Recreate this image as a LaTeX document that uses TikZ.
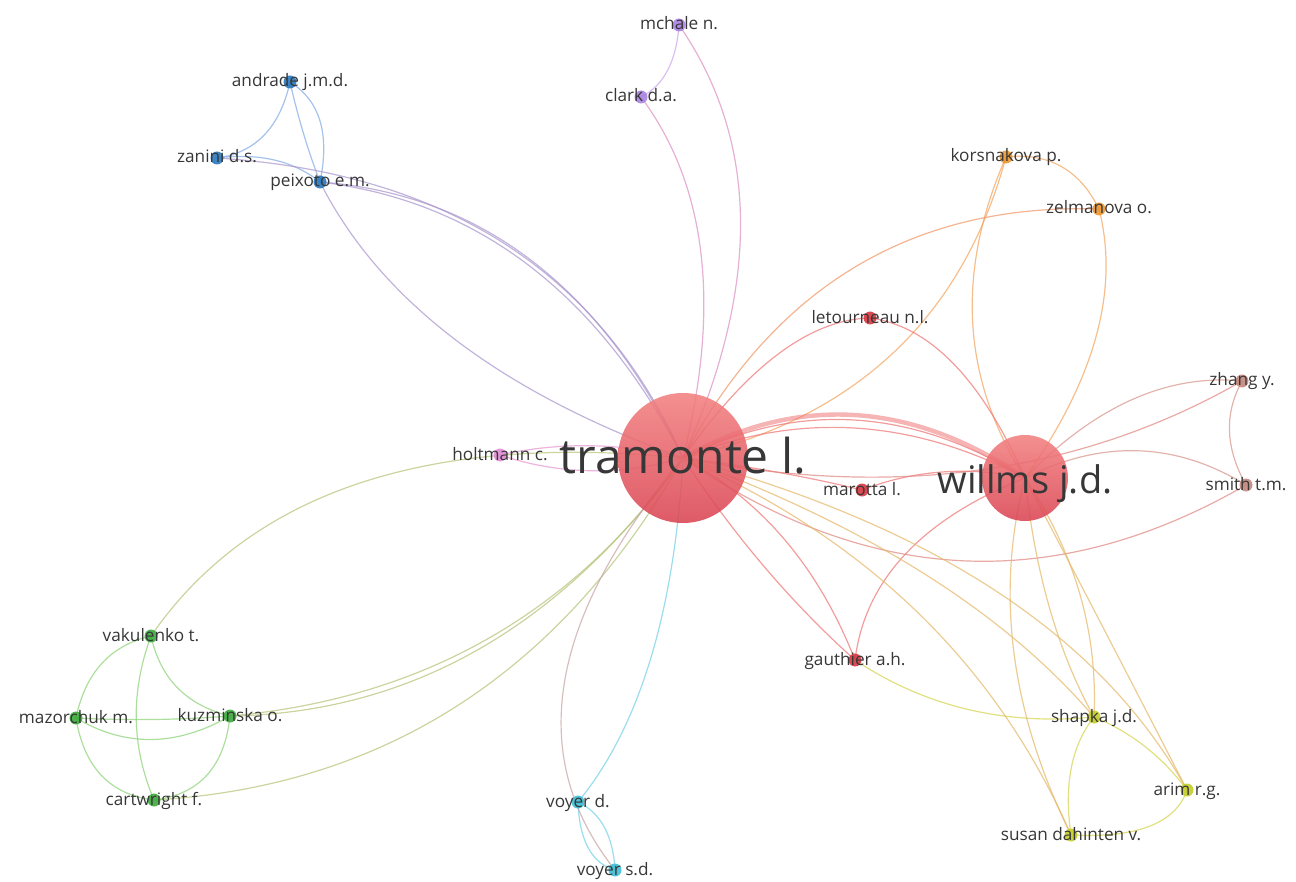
\documentclass[tikz,border=0pt]{standalone}
\usepackage{fontspec}
\setmainfont{Open Sans}
\usetikzlibrary{calc}
\definecolor{txt}{RGB}{55,55,55}
\definecolor{cRedE}{RGB}{238,118,118}
\definecolor{cOrE}{RGB}{242,165,95}
\definecolor{cBrE}{RGB}{215,150,140}
\definecolor{cYeE}{RGB}{212,212,80}
\definecolor{cGrE}{RGB}{140,210,120}
\definecolor{cBlE}{RGB}{130,170,230}
\definecolor{cPuE}{RGB}{205,165,235}
\definecolor{cCyE}{RGB}{115,208,230}
\definecolor{cPiE}{RGB}{230,150,210}
\definecolor{mBl}{RGB}{170,150,205}
\definecolor{mGr}{RGB}{180,195,120}
\definecolor{mPu}{RGB}{220,145,195}
\definecolor{mYe}{RGB}{228,185,105}
\definecolor{mCy}{RGB}{200,165,165}
\definecolor{nRed}{RGB}{215,55,65}
\definecolor{nOr}{RGB}{235,150,50}
\definecolor{nBr}{RGB}{195,135,125}
\definecolor{nYe}{RGB}{195,205,40}
\definecolor{nGr}{RGB}{60,170,60}
\definecolor{nBl}{RGB}{40,120,190}
\definecolor{nPu}{RGB}{170,130,225}
\definecolor{nCy}{RGB}{60,190,215}
\definecolor{nPi}{RGB}{225,140,215}
\definecolor{bigTop}{RGB}{242,128,128}
\definecolor{bigBot}{RGB}{218,68,82}
\newcommand\qedge[4][]{\draw[#1] (#2) .. controls ($(#2)!0.6667!(#4)$) and ($(#3)!0.6667!(#4)$) .. (#3);}
\tikzset{
  e/.style={line width=0.6pt, draw opacity=0.72},
  ered/.style={e, draw=cRedE},
  eor/.style={e, draw=cOrE},
  ebr/.style={e, draw=cBrE},
  eye/.style={e, draw=cYeE},
  egr/.style={e, draw=cGrE},
  ebl/.style={e, draw=cBlE},
  epu/.style={e, draw=cPuE},
  ecy/.style={e, draw=cCyE},
  epi/.style={e, draw=cPiE},
  smallnode/.style={circle, inner sep=0pt, minimum size=6.5pt, fill opacity=0.9},
  bignode/.style={circle, inner sep=0pt, top color=bigTop, bottom color=bigBot, fill opacity=0.88},
  lab/.style={anchor=base, text=txt, inner sep=0pt, font=\fontsize{8.6}{8.6}\selectfont},
}
\begin{document}
\begin{tikzpicture}[x=0.5pt, y=-0.5pt]
\useasboundingbox (0,0) rectangle (1296,882);
% positions
\coordinate (tra) at (683,458);
\coordinate (wil) at (1025,478);
\coordinate (hol) at (500,455);
\coordinate (mar) at (862,490);
\coordinate (let) at (870,318);
\coordinate (kor) at (1006,157);
\coordinate (zel) at (1099,209);
\coordinate (zha) at (1242,381);
\coordinate (smi) at (1246,485);
\coordinate (gau) at (855,660);
\coordinate (sha) at (1094,717);
\coordinate (ari) at (1187,790);
\coordinate (sus) at (1071,835);
\coordinate (vod) at (578,802);
\coordinate (vos) at (615,870);
\coordinate (vak) at (151,636);
\coordinate (maz) at (76,718);
\coordinate (kuz) at (230,716);
\coordinate (car) at (154,800);
\coordinate (adr) at (290,82);
\coordinate (zan) at (217,158);
\coordinate (pei) at (320,182);
\coordinate (mch) at (679,25);
\coordinate (cla) at (641,97);
% ---- edges ----
% blue cluster
\qedge[ebl]{adr}{zan}{275,150}
\qedge[ebl]{adr}{pei}{302,135}
\qedge[ebl]{adr}{pei}{335,110}
\qedge[ebl]{zan}{pei}{280,150}
\qedge[e, draw=mBl]{zan}{tra}{560,180}
\qedge[e, draw=mBl]{pei}{tra}{560,200}
\qedge[e, draw=mBl]{pei}{tra}{555,210}
\qedge[e, draw=mBl]{pei}{tra}{410,360}
% purple
\qedge[epu]{mch}{cla}{675,80}
\qedge[e, draw=mPu]{cla}{tra}{740,230}
\qedge[e, draw=mPu]{mch}{tra}{800,200}
% orange
\qedge[eor]{kor}{zel}{1070,150}
\qedge[eor]{kor}{tra}{940,400}
\qedge[eor]{kor}{wil}{930,330}
\qedge[eor]{zel}{wil}{1130,330}
\qedge[e, draw=cOrE!70!cRedE]{zel}{tra}{820,200}
% red
\qedge[ered, line width=2.2pt, draw opacity=0.55]{tra}{wil}{854,362}
\qedge[ered]{tra}{wil}{854,372}
\qedge[ered]{tra}{wil}{854,388}
\qedge[ered]{tra}{mar}{780,470}
\qedge[ered]{wil}{mar}{940,460}
\qedge[ered]{tra}{let}{780,320}
\qedge[ered]{let}{wil}{960,330}
\qedge[ered]{tra}{gau}{800,520}
\qedge[ered]{tra}{gau}{760,575}
\qedge[ered]{wil}{gau}{870,540}
% brown
\qedge[e, draw=cBrE!60!cRedE]{tra}{smi}{960,650}
\qedge[ebr]{wil}{smi}{1140,420}
\qedge[ebr]{wil}{zha}{1130,370}
\qedge[e, draw=cBrE!60!cRedE]{tra}{zha}{1000,520}
\qedge[ebr]{zha}{smi}{1215,430}
% pink
\qedge[epi]{hol}{tra}{590,435}
\qedge[epi]{hol}{tra}{590,485}
% green
\qedge[e, draw=mGr]{vak}{tra}{300,420}
\qedge[e, draw=mGr]{kuz}{tra}{520,690}
\qedge[e, draw=mGr]{kuz}{tra}{500,712}
\qedge[e, draw=mGr]{car}{tra}{500,780}
\qedge[egr]{vak}{maz}{90,650}
\qedge[egr]{vak}{car}{120,720}
\qedge[egr]{vak}{kuz}{165,700}
\qedge[egr]{maz}{kuz}{153,722}
\qedge[egr]{maz}{kuz}{150,762}
\qedge[egr]{maz}{car}{88,792}
\qedge[egr]{kuz}{car}{222,792}
% cyan
\qedge[ecy]{vod}{vos}{580,860}
\qedge[ecy]{vod}{vos}{612,818}
\qedge[e, draw=mCy]{tra}{vos}{480,700}
\qedge[ecy]{tra}{vod}{670,690}
% yellow
\qedge[eye]{gau}{sha}{960,730}
\qedge[e, draw=mYe]{tra}{sha}{960,560}
\qedge[e, draw=mYe]{tra}{ari}{1060,560}
\qedge[e, draw=mYe]{tra}{sus}{960,580}
\qedge[e, draw=mYe]{wil}{sha}{1040,620}
\qedge[e, draw=mYe]{wil}{sha}{1100,590}
\qedge[e, draw=mYe]{wil}{sus}{980,650}
\qedge[e, draw=mYe]{wil}{ari}{1110,640}
\qedge[eye]{sha}{ari}{1150,740}
\qedge[eye]{sha}{sus}{1060,760}
\qedge[eye]{ari}{sus}{1170,840}
% ---- nodes ----
\node[bignode, minimum size=65pt] (tran) at (tra) {};
\node[bignode, minimum size=43pt] (wiln) at (wil) {};
\node[smallnode, fill=nPi] (holn) at (hol) {};
\node[smallnode, fill=nRed] (marn) at (mar) {};
\node[smallnode, fill=nRed] (letn) at (let) {};
\node[smallnode, fill=nOr] (korn) at (kor) {};
\node[smallnode, fill=nOr] (zeln) at (zel) {};
\node[smallnode, fill=nBr] (zhan) at (zha) {};
\node[smallnode, fill=nBr] (smin) at (smi) {};
\node[smallnode, fill=nRed] (gaun) at (gau) {};
\node[smallnode, fill=nYe] (shan) at (sha) {};
\node[smallnode, fill=nYe] (arin) at (ari) {};
\node[smallnode, fill=nYe] (susn) at (sus) {};
\node[smallnode, fill=nCy] (vodn) at (vod) {};
\node[smallnode, fill=nCy] (vosn) at (vos) {};
\node[smallnode, fill=nGr] (vakn) at (vak) {};
\node[smallnode, fill=nGr] (mazn) at (maz) {};
\node[smallnode, fill=nGr] (kuzn) at (kuz) {};
\node[smallnode, fill=nGr] (carn) at (car) {};
\node[smallnode, fill=nBl] (adrn) at (adr) {};
\node[smallnode, fill=nBl] (zann) at (zan) {};
\node[smallnode, fill=nBl] (pein) at (pei) {};
\node[smallnode, fill=nPu] (mchn) at (mch) {};
\node[smallnode, fill=nPu] (clan) at (cla) {};
% ---- labels ----
\node[lab, font=\fontsize{24}{24}\selectfont] (tral) at ([yshift=-7.5pt]tra) {tramonte l.};
\node[lab, font=\fontsize{19}{19}\selectfont] (will) at ([yshift=-7.5pt]wil) {willms j.d.};
\node[lab] (holl) at ([yshift=-2.5pt]hol) {holtmann c.};
\node[lab] (marl) at ([yshift=-2.5pt]mar) {marotta l.};
\node[lab] (letl) at ([yshift=-2.5pt]let) {letourneau n.l.};
\node[lab] (korl) at ([yshift=-2.5pt]kor) {korsnakova p.};
\node[lab] (zell) at ([yshift=-2.5pt]zel) {zelmanova o.};
\node[lab] (zhal) at ([yshift=-2.5pt]zha) {zhang y.};
\node[lab] (smil) at ([yshift=-2.5pt]smi) {smith t.m.};
\node[lab] (gaul) at ([yshift=-2.5pt]gau) {gauthier a.h.};
\node[lab] (shal) at ([yshift=-2.5pt]sha) {shapka j.d.};
\node[lab] (aril) at ([yshift=-2.5pt]ari) {arim r.g.};
\node[lab] (susl) at ([yshift=-2.5pt]sus) {susan dahinten v.};
\node[lab] (vodl) at ([yshift=-2.5pt]vod) {voyer d.};
\node[lab] (vosl) at ([yshift=-2.5pt]vos) {voyer s.d.};
\node[lab] (vakl) at ([yshift=-2.5pt]vak) {vakulenko t.};
\node[lab] (mazl) at ([yshift=-2.5pt]maz) {mazorchuk m.};
\node[lab] (kuzl) at ([yshift=-2.5pt]kuz) {kuzminska o.};
\node[lab] (carl) at ([yshift=-2.5pt]car) {cartwright f.};
\node[lab] (adrl) at ([yshift=-2.5pt]adr) {andrade j.m.d.};
\node[lab] (zanl) at ([yshift=-2.5pt]zan) {zanini d.s.};
\node[lab] (peil) at ([yshift=-2.5pt]pei) {peixoto e.m.};
\node[lab] (mchl) at ([yshift=-2.5pt]mch) {mchale n.};
\node[lab] (clal) at ([yshift=-2.5pt]cla) {clark d.a.};
\end{tikzpicture}
\end{document}
